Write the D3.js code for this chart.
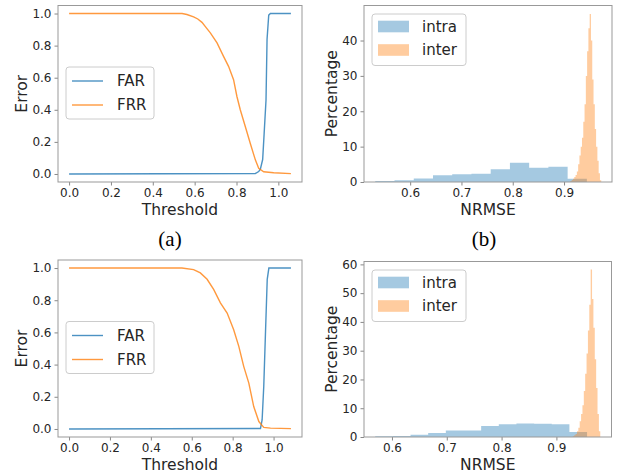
<!DOCTYPE html>
<html>
<head>
<meta charset="utf-8">
<script src="https://cdn.jsdelivr.net/npm/d3@7"></script>
<style>
    body { margin: 0; background: #fff; }
    text { font-family: "DejaVu Sans", sans-serif; fill: #262626; }
    .tick text { font-size: 12px; }
    .tick line, .domain { stroke: #888; }
    .cap { font-family: "Liberation Serif", "Times New Roman", serif; font-size: 21px; fill: #000; }
</style>
</head>
<body>
<svg id="fig" width="629" height="476"></svg>
<script>

// ---- values ----

// (a) top row: FAR / FRR against threshold
var thrFarTop = [0, 0.89, 0.906, 0.914, 0.925, 0.932, 0.941, 0.946, 0.954, 0.962, 1.06];
var farTop    = [0, 0.003, 0.015, 0.03, 0.09, 0.25, 0.46, 0.84, 0.99, 1, 1];
var thrFrrTop = [0, 0.54, 0.563, 0.595, 0.615, 0.635, 0.655, 0.675, 0.707, 0.738, 0.762, 0.786, 0.802, 0.818, 0.842, 0.866, 0.89, 0.906, 0.93, 0.978, 1.06];
var frrTop    = [1, 1, 0.994, 0.979, 0.966, 0.945, 0.912, 0.879, 0.817, 0.733, 0.671, 0.588, 0.483, 0.40, 0.296, 0.19, 0.088, 0.035, 0.014, 0.008, 0.002];

// (a) bottom row
var thrFarBot = [0, 0.936, 0.944, 0.952, 0.961, 0.969, 0.977, 1.085];
var farBot    = [0, 0.003, 0.056, 0.264, 0.62, 0.93, 1, 1];
var thrFrrBot = [0, 0.552, 0.609, 0.642, 0.675, 0.707, 0.74, 0.773, 0.805, 0.83, 0.854, 0.879, 0.903, 0.928, 0.952, 0.985, 1.085];
var frrBot    = [1, 1, 0.99, 0.97, 0.93, 0.867, 0.784, 0.72, 0.617, 0.513, 0.389, 0.285, 0.139, 0.046, 0.01, 0.005, 0.002];

var thresholdTicks = [0, 0.2, 0.4, 0.6, 0.8, 1.0];
var errorTicks = [0, 0.2, 0.4, 0.6, 0.8, 1.0];

// (b) top row: NRMSE histograms (bin start, bin width, percentages)
var intraTopStart = 0.532, intraTopWidth = 0.0375;
var intraTop = [0.28, 0.47, 1.0, 1.9, 2.2, 2.35, 3.6, 5.45, 4.0, 4.3, 0.94];
var interTopStart = 0.9125, interTopWidth = 0.0025;
var interTop = [0.3, 0.6, 0.9, 1.4, 2.0, 3.0, 5.0, 7.5, 10, 12.5, 17, 22, 30, 37, 43.5, 47.5, 40, 29, 22, 15, 10, 6, 2.5, 0.5];

// (b) bottom row
var intraBotStart = 0.5695, intraBotWidth = 0.0322;
var intraBot = [0.3, 0.35, 0.8, 1.4, 2.3, 2.3, 3.8, 4.4, 4.7, 4.6, 4.4, 1.7];
var interBotStart = 0.930, interBotWidth = 0.0025;
var interBot = [0.3, 0.6, 1.0, 2.0, 3.2, 5.5, 8, 11, 16, 22, 29, 37, 46, 58.2, 48, 38, 27, 17, 8, 2];

var nrmseTicks = [0.6, 0.7, 0.8, 0.9];
var pctTicksTop = [0, 10, 20, 30, 40];
var pctTicksBot = [0, 10, 20, 30, 40, 50, 60];

var blue = '#1f77b4', orange = '#ff7f0e';

var svg = d3.select('#fig');

function frame(cfg, x, y, xTicks, yTicks, fmtX, fmtY) {
    svg.append('g')
        .attr('transform', 'translate(0,' + cfg.bottom + ')')
        .call(d3.axisBottom(x).tickValues(xTicks).tickFormat(fmtX).tickSize(3.5).tickPadding(3).tickSizeOuter(0))
        .call(function (g) { g.select('.domain').remove(); });
    svg.append('g')
        .attr('transform', 'translate(' + cfg.left + ',0)')
        .call(d3.axisLeft(y).tickValues(yTicks).tickFormat(fmtY).tickSize(3.5).tickPadding(3).tickSizeOuter(0))
        .call(function (g) { g.select('.domain').remove(); });
    svg.append('rect')
        .attr('x', cfg.left).attr('y', cfg.top)
        .attr('width', cfg.right - cfg.left).attr('height', cfg.bottom - cfg.top)
        .attr('fill', 'none').attr('stroke', '#999').attr('stroke-width', 1);

    svg.append('text')
        .attr('x', (cfg.left + cfg.right) / 2).attr('y', cfg.bottom + 32.5)
        .attr('text-anchor', 'middle').style('font-size', '15.5px')
        .text(cfg.xLabel);
    svg.append('text')
        .attr('transform', 'translate(' + (cfg.left - cfg.yLabelOff) + ',' + ((cfg.top + cfg.bottom) / 2) + ') rotate(-90)')
        .attr('text-anchor', 'middle').style('font-size', '15.5px')
        .text(cfg.yLabel);
}

function legendBox(bx, by, w, h) {
    svg.append('rect')
        .attr('x', bx).attr('y', by).attr('width', w).attr('height', h)
        .attr('rx', 3)
        .attr('fill', '#fff').attr('fill-opacity', 0.8)
        .attr('stroke', '#ccc').attr('stroke-width', 1);
}

function linePanel(cfg) {
    var x = d3.scaleLinear().domain(cfg.xDomain).range([cfg.left, cfg.right]);
    var y = d3.scaleLinear().domain([-0.05, 1.05]).range([cfg.bottom, cfg.top]);

    var line = d3.line()
        .x(function (d) { return x(d[0]); })
        .y(function (d) { return y(d[1]); });

    var far = d3.zip(cfg.farX, cfg.far);
    var frr = d3.zip(cfg.frrX, cfg.frr);

    svg.append('path').attr('d', line(far))
        .attr('fill', 'none').attr('stroke', blue).attr('stroke-width', 1.4).attr('stroke-opacity', 0.8);
    svg.append('path').attr('d', line(frr))
        .attr('fill', 'none').attr('stroke', orange).attr('stroke-width', 1.4).attr('stroke-opacity', 0.8);

    frame(cfg, x, y, thresholdTicks, errorTicks, d3.format('.1f'), d3.format('.1f'));

    var bx = cfg.left + 8, by = cfg.top + 61.5;
    legendBox(bx, by, 88, 52);
    [['FAR', blue], ['FRR', orange]].forEach(function (e, i) {
        var ly = by + 14 + i * 24;
        svg.append('line')
            .attr('x1', bx + 6).attr('x2', bx + 37).attr('y1', ly).attr('y2', ly)
            .attr('stroke', e[1]).attr('stroke-width', 1.4).attr('stroke-opacity', 0.8);
        svg.append('text')
            .attr('x', bx + 51).attr('y', ly).attr('dy', '0.36em')
            .style('font-size', '15px')
            .text(e[0]);
    });
}

function bins(start, width, values) {
    return values.map(function (v, i) { return {x0: start + i * width, x1: start + (i + 1) * width, h: v}; });
}

function histPanel(cfg) {
    var x = d3.scaleLinear().domain(cfg.xDomain).range([cfg.left, cfg.right]);
    var y = d3.scaleLinear().domain(cfg.yDomain).range([cfg.bottom, cfg.top]);

    var area = d3.area()
        .curve(d3.curveStepAfter)
        .x(function (d) { return x(d[0]); })
        .y0(y(0))
        .y1(function (d) { return y(d[1]); });

    [[cfg.intra, blue], [cfg.inter, orange]].forEach(function (s) {
        var pts = s[0].map(function (b) { return [b.x0, b.h]; });
        var last = s[0][s[0].length - 1];
        pts.push([last.x1, last.h]);
        svg.append('path').attr('d', area(pts))
            .attr('fill', s[1]).attr('fill-opacity', 0.4);
    });

    frame(cfg, x, y, nrmseTicks, cfg.yTicks, d3.format('.1f'), d3.format('d'));

    var bx = cfg.left + 8, by = cfg.top + 8.5;
    legendBox(bx, by, 94, 51.5);
    [['intra', blue], ['inter', orange]].forEach(function (e, i) {
        var cy = by + 12.5 + i * 23.5;
        svg.append('rect')
            .attr('x', bx + 6).attr('y', cy - 5.8).attr('width', 31).attr('height', 11.6)
            .attr('fill', e[1]).attr('fill-opacity', 0.4);
        svg.append('text')
            .attr('x', bx + 50).attr('y', cy).attr('dy', '0.36em')
            .style('font-size', '15px')
            .text(e[0]);
    });
}

linePanel({
    left: 58, right: 302, top: 5.5, bottom: 182,
    xDomain: [-0.053, 1.113],
    farX: thrFarTop, far: farTop, frrX: thrFrrTop, frr: frrTop,
    xLabel: 'Threshold', yLabel: 'Error', yLabelOff: 31
});

linePanel({
    left: 58, right: 302, top: 260, bottom: 437,
    xDomain: [-0.054, 1.139],
    farX: thrFarBot, far: farBot, frrX: thrFrrBot, frr: frrBot,
    xLabel: 'Threshold', yLabel: 'Error', yLabelOff: 31
});

histPanel({
    left: 364, right: 612, top: 5.5, bottom: 182,
    xDomain: [0.510, 0.9935], yDomain: [0, 49.9], yTicks: pctTicksTop,
    intra: bins(intraTopStart, intraTopWidth, intraTop),
    inter: bins(interTopStart, interTopWidth, interTop),
    xLabel: 'NRMSE', yLabel: 'Percentage', yLabelOff: 27
});

histPanel({
    left: 364, right: 611.5, top: 261.5, bottom: 437,
    xDomain: [0.549, 1.0005], yDomain: [0, 61], yTicks: pctTicksBot,
    intra: bins(intraBotStart, intraBotWidth, intraBot),
    inter: bins(interBotStart, interBotWidth, interBot),
    xLabel: 'NRMSE', yLabel: 'Percentage', yLabelOff: 27
});

svg.append('text').attr('class', 'cap')
    .attr('x', 170).attr('y', 246).attr('text-anchor', 'middle').text('(a)');
svg.append('text').attr('class', 'cap')
    .attr('x', 484).attr('y', 246).attr('text-anchor', 'middle').text('(b)');

</script>
</body>
</html>
